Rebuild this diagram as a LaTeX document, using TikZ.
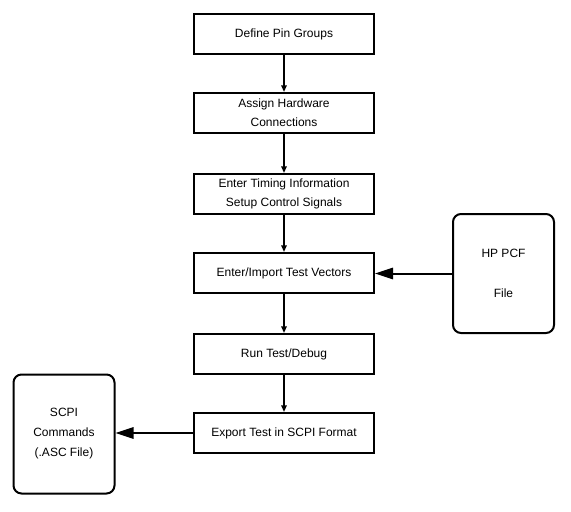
\documentclass[tikz,border=0pt]{standalone}
\usepackage{fontspec}
\setmainfont{Liberation Sans}
\usetikzlibrary{arrows.meta}
\begin{document}
\begin{tikzpicture}[x=0.75pt,y=-0.75pt,
  stepbox/.style={draw, line width=1.5pt, minimum width=135pt, minimum height=30pt, inner sep=0pt, align=center, font=\fontsize{9}{14.5}\selectfont},
  filebox/.style={draw, line width=1.5pt, rounded corners=6pt, minimum width=75.75pt, minimum height=89.25pt, inner sep=0pt, align=center, font=\fontsize{9}{15}\selectfont},
  smallarrow/.style={line width=1.5pt, -{Triangle[length=5pt,width=4pt]}},
  bigarrow/.style={line width=1.5pt, -{Triangle[length=13.5pt,width=8.5pt]}}]
\useasboundingbox (0,0) rectangle (571,511);
\node[stepbox] (b1) at (284,34) {Define Pin Groups};
\node[stepbox] (b2) at (284,113) {Assign Hardware\\Connections};
\node[stepbox] (b3) at (284,194) {Enter Timing Information\\Setup Control Signals};
\node[stepbox] (b4) at (284,273) {Enter/Import Test Vectors};
\node[stepbox] (b5) at (284,354) {Run Test/Debug};
\node[stepbox] (b6) at (284,433) {Export Test in SCPI Format};
\node[filebox] (hp) at (503.5,273.5) {HP PCF\\[15pt]File};
\node[filebox] (scpi) at (64,434) {SCPI\\Commands\\(.ASC File)};
\draw[smallarrow] (b1) -- (b2);
\draw[smallarrow] (b2) -- (b3);
\draw[smallarrow] (b3) -- (b4);
\draw[smallarrow] (b4) -- (b5);
\draw[smallarrow] (b5) -- (b6);
\draw[bigarrow] (hp.west) -- (hp.west -| b4.east);
\draw[bigarrow] (b6.west) -- (b6.west -| scpi.east);
\end{tikzpicture}
\end{document}
